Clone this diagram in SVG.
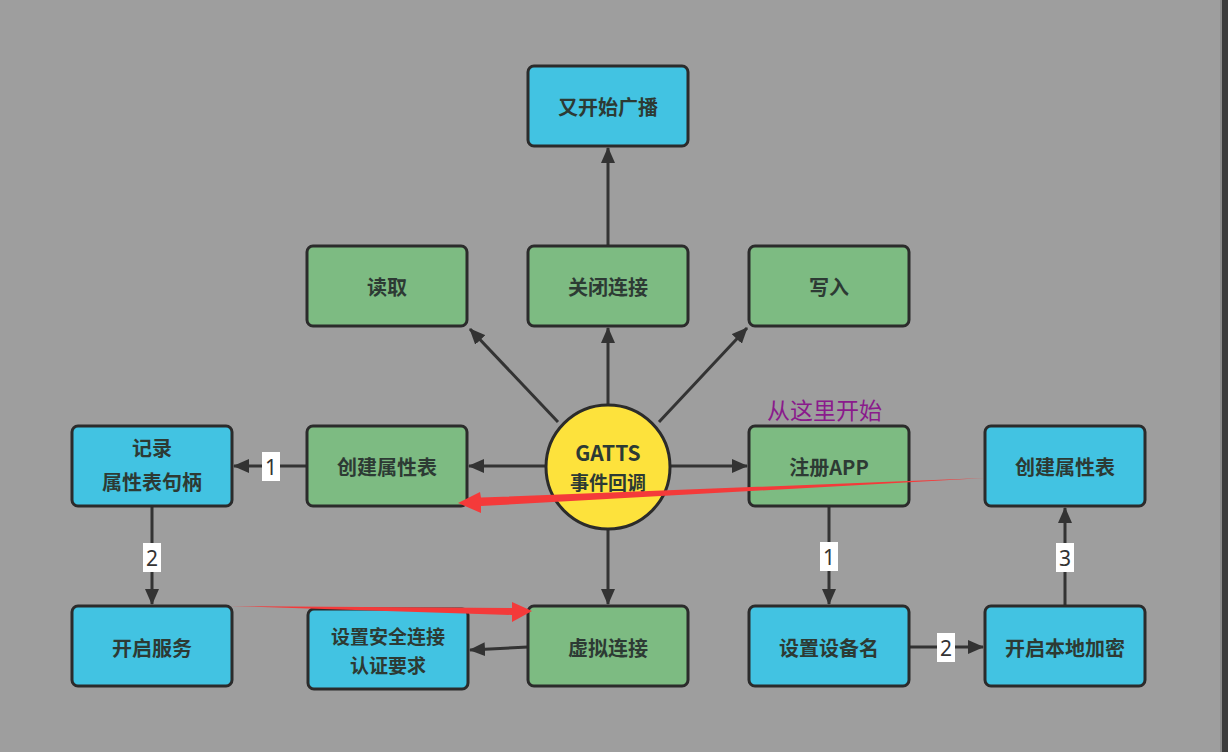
<svg xmlns="http://www.w3.org/2000/svg" width="1228" height="752" viewBox="0 0 1228 752">
<defs>
<style>
.box rect{stroke:#2b2b2b;stroke-width:3}
.blue rect{fill:#42c3e2}
.green rect{fill:#7dbb82}
.t{font-family:"Noto Sans CJK SC","Noto Sans",sans-serif;font-weight:700;font-size:20px;fill:#2d3a34;text-anchor:middle;dominant-baseline:central}
.conn line{stroke:#333;stroke-width:3}
.lbl rect{fill:#fff}
.lbl text{font-family:"Noto Sans","DejaVu Sans",sans-serif;font-size:21px;fill:#333;text-anchor:middle;dominant-baseline:central}
</style>
<marker id="ah" viewBox="0 0 16 14" refX="15" refY="7" markerWidth="16" markerHeight="14" markerUnits="userSpaceOnUse" orient="auto">
<path d="M0,0 L16,7 L0,14 Z" fill="#333"/>
</marker>
</defs>
<rect x="0" y="0" width="1228" height="752" fill="#9e9e9e"/>
<rect x="1222" y="0" width="6" height="752" fill="#3c3c3c"/>
<rect x="1220" y="0" width="2" height="752" fill="#8a8a8a"/>

<g id="connectors" class="conn">
<line x1="608" y1="246" x2="608" y2="148" marker-end="url(#ah)"/>
<line x1="608" y1="405" x2="608" y2="328" marker-end="url(#ah)"/>
<line x1="558" y1="422" x2="470" y2="329" marker-end="url(#ah)"/>
<line x1="659" y1="422" x2="747" y2="328" marker-end="url(#ah)"/>
<line x1="546" y1="466" x2="469" y2="466" marker-end="url(#ah)"/>
<line x1="670" y1="466" x2="747" y2="466" marker-end="url(#ah)"/>
<line x1="608" y1="530" x2="608" y2="604" marker-end="url(#ah)"/>
<line x1="528" y1="647" x2="470" y2="650" marker-end="url(#ah)"/>
<line x1="307" y1="466" x2="234" y2="466" marker-end="url(#ah)"/>
<line x1="152" y1="506" x2="152" y2="604" marker-end="url(#ah)"/>
<line x1="829" y1="506" x2="829" y2="604" marker-end="url(#ah)"/>
<line x1="909" y1="647" x2="983" y2="647" marker-end="url(#ah)"/>
<line x1="1065" y1="606" x2="1065" y2="508" marker-end="url(#ah)"/>
<g class="lbl">
<rect x="262" y="452" width="18" height="29"/><text x="271" y="467">1</text>
<rect x="143" y="543" width="18" height="29"/><text x="152" y="558">2</text>
<rect x="820" y="542" width="18" height="29"/><text x="829" y="557">1</text>
<rect x="937" y="633" width="18" height="29"/><text x="946" y="648">2</text>
<rect x="1056" y="543" width="18" height="29"/><text x="1065" y="558">3</text>
</g>
</g>

<g id="n_guangbo" class="box blue"><rect x="528" y="66" width="160" height="80" rx="6"/><text class="t" x="608" y="106">又开始广播</text></g>
<g id="n_duqu" class="box green"><rect x="307" y="246" width="160" height="80" rx="6"/><text class="t" x="387" y="286">读取</text></g>
<g id="n_guanbi" class="box green"><rect x="528" y="246" width="160" height="80" rx="6"/><text class="t" x="608" y="286">关闭连接</text></g>
<g id="n_xieru" class="box green"><rect x="749" y="246" width="160" height="80" rx="6"/><text class="t" x="829" y="286">写入</text></g>
<g id="n_jilu" class="box blue"><rect x="72" y="426" width="160" height="80" rx="6"/><text class="t" x="152" y="447">记录</text><text class="t" x="152" y="481">属性表句柄</text></g>
<g id="n_chuangjian1" class="box green"><rect x="307" y="426" width="160" height="80" rx="6"/><text class="t" x="387" y="466">创建属性表</text></g>
<g id="n_gatts"><circle cx="608" cy="467" r="62" fill="#fde23c" stroke="#2b2b2b" stroke-width="3"/><text class="t" x="608" y="452" style="font-size:21px">GATTS</text><text class="t" x="608" y="481" style="font-size:19px">事件回调</text></g>
<g id="n_zhuce" class="box green"><rect x="749" y="426" width="160" height="80" rx="6"/><text class="t" x="829" y="466">注册APP</text></g>
<g id="n_chuangjian2" class="box blue"><rect x="985" y="426" width="160" height="80" rx="6"/><text class="t" x="1065" y="466">创建属性表</text></g>
<g id="n_fuwu" class="box blue"><rect x="72" y="606" width="160" height="80" rx="6"/><text class="t" x="152" y="647">开启服务</text></g>
<g id="n_anquan" class="box blue"><rect x="308" y="609" width="160" height="80" rx="6"/><text class="t" x="388" y="635" style="font-size:19px">设置安全连接</text><text class="t" x="388" y="664" style="font-size:19px">认证要求</text></g>
<g id="n_xuni" class="box green"><rect x="528" y="606" width="160" height="80" rx="6"/><text class="t" x="608" y="647">虚拟连接</text></g>
<g id="n_shebei" class="box blue"><rect x="749" y="606" width="160" height="80" rx="6"/><text class="t" x="829" y="647">设置设备名</text></g>
<g id="n_jiami" class="box blue"><rect x="985" y="606" width="160" height="80" rx="6"/><text class="t" x="1065" y="647">开启本地加密</text></g>

<g id="annotations">
<text x="767" y="419" style="font-family:'Noto Sans CJK SC','Noto Sans',sans-serif;font-size:23px;fill:#8a1a8c">从这里开始</text>
<path d="M985,478 L481,497.5 L480,492 L458,503 L481,513 L481,506 Z" fill="#f43a3a"/>
<path d="M230,606 L512,608 L512,602 L532,611 L512,622 L512,615 Z" fill="#f43a3a"/>
</g>
</svg>
